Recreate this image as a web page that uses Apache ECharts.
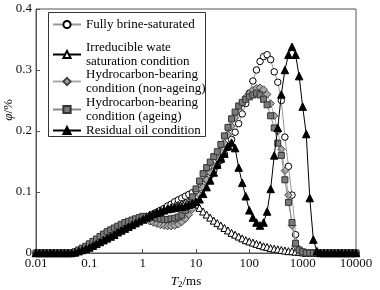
<!DOCTYPE html>
<html>
<head>
<meta charset="utf-8">
<script src="https://cdn.jsdelivr.net/npm/echarts@6/dist/echarts.min.js"></script>
<style>html,body{margin:0;padding:0;background:#fff;}#c{width:380px;height:290px;}</style>
</head>
<body>
<div id="c"></div>
<script>
// T2 relaxation times (ms), log-spaced grid
var T2 = [
0.01,0.01166,0.01359,0.01585,0.01848,0.02154,0.02512,0.02929,0.03415,0.03981,0.04642,0.05412,0.0631,0.07356,0.08577,
0.1,0.1166,0.1359,0.1585,0.1848,0.2154,0.2512,0.2929,0.3415,0.3981,0.4642,0.5412,0.631,0.7356,0.8577,
1,1.166,1.359,1.585,1.848,2.154,2.512,2.929,3.415,3.981,4.642,5.412,6.31,7.356,8.577,
10,11.66,13.59,15.85,18.48,21.54,25.12,29.29,34.15,39.81,46.42,54.12,63.1,73.56,85.77,
100,116.6,135.9,158.5,184.8,215.4,251.2,292.9,341.5,398.1,464.2,541.2,631,735.6,857.7,
1000,1166,1359,1585,1848,2154,2512,2929,3415,3981,4642,5412,6310,7356,8577,
10000];

var brineSaturated = [
0,0,0,0,0,0,0,0,0,0,0,
0.001,0.003,0.005,0.007,0.009,0.012,0.015,0.018,0.021,0.024,0.027,0.031,0.034,0.037,0.040,0.043,0.046,0.049,0.052,0.055,
0.058,0.061,0.064,0.067,0.070,0.073,0.077,0.080,0.084,0.087,0.090,0.093,0.096,0.099,0.102,0.107,0.113,0.120,0.127,0.135,
0.143,0.152,0.162,0.173,0.186,0.198,0.212,0.228,0.245,0.262,0.282,0.300,0.314,0.322,0.325,0.317,0.297,0.280,0.250,0.190,
0.142,0.095,0.030,0.005,0.001,
0,0,0,0,0,0,0,0,0,0,0,0,0,0,0];

var irreducibleWater = [
0,0,0,0,0,0,0,0,0,0,0,
0.002,0.004,0.006,0.009,0.012,0.015,0.018,0.021,0.024,0.027,0.030,0.034,0.037,0.040,0.043,0.046,0.049,0.052,0.055,0.058,
0.060,0.063,0.065,0.067,0.069,0.071,0.073,0.075,0.077,0.079,0.081,0.083,0.084,0.083,0.079,0.074,0.068,0.063,0.058,0.053,
0.049,0.045,0.041,0.037,0.033,0.030,0.027,0.024,0.021,0.019,0.017,0.015,0.013,0.011,0.010,0.008,0.007,0.006,0.005,0.004,
0.003,0.003,0.002,0.002,0.001,
0,0,0,0,0,0,0,0,0,0,0,0,0,0,0];

var hcNonAgeing = [
0,0,0,0,0,0,0,0,0,0,0,
0.002,0.004,0.007,0.010,0.013,0.017,0.021,0.025,0.029,0.033,0.036,0.039,0.042,0.045,0.048,0.050,0.052,0.054,0.055,0.055,
0.054,0.052,0.050,0.048,0.046,0.045,0.044,0.044,0.045,0.047,0.051,0.056,0.063,0.072,0.083,0.095,0.108,0.120,0.132,0.143,
0.155,0.167,0.180,0.194,0.208,0.222,0.235,0.246,0.255,0.262,0.267,0.270,0.271,0.268,0.260,0.245,0.225,0.200,0.170,0.135,
0.095,0.045,0.012,0.004,0.001,
0,0,0,0,0,0,0,0,0,0,0,0,0,0,0];

var hcAgeing = [
0,0,0,0,0,0,0,0,0,0,0,
0.002,0.005,0.008,0.011,0.015,0.019,0.023,0.027,0.031,0.035,0.038,0.041,0.044,0.047,0.050,0.052,0.054,0.056,0.058,0.060,
0.060,0.059,0.058,0.057,0.056,0.055,0.055,0.056,0.057,0.059,0.062,0.070,0.080,0.092,0.105,0.118,0.130,0.140,0.149,0.158,
0.166,0.178,0.192,0.206,0.220,0.231,0.241,0.247,0.252,0.256,0.259,0.262,0.259,0.252,0.243,0.225,0.205,0.180,0.160,0.120,
0.083,0.050,0.016,0.005,0.002,
0,0,0,0,0,0,0,0,0,0,0,0,0,0,0];

var residualOil = [
0,0,0,0,0,0,0,0,0,0,0,
0.001,0.003,0.005,0.007,0.009,0.012,0.015,0.018,0.021,0.024,0.027,0.030,0.034,0.037,0.040,0.043,0.046,0.049,0.052,0.055,
0.058,0.061,0.064,0.066,0.068,0.070,0.072,0.073,0.074,0.075,0.076,0.077,0.079,0.081,0.084,0.088,0.097,0.108,0.119,0.132,
0.145,0.155,0.163,0.175,0.181,0.172,0.140,0.115,0.093,0.070,0.058,0.050,0.045,0.050,0.068,0.105,0.160,0.205,0.260,0.300,
0.325,0.338,0.325,0.290,0.240,0.195,0.090,0.022,0.003,
0,0,0,0,0,0,0,0,0,0,0];

var seriesNames = [
  'Fully brine-saturated',
  'Irreducible wate\nsaturation condition',
  'Hydrocarbon-bearing\ncondition (non-ageing)',
  'Hydrocarbon-bearing\ncondition (ageing)',
  'Residual oil condition'
];
var xTickLabels = ['0.01','0.1','1','10','100','1000','10000'];
var yTickLabels = ['0','0.1','0.2','0.3','0.4'];

function pairs(v){ return T2.map(function(t,i){ return [t, v[i]]; }); }

var SERIF = 'Liberation Serif, Times New Roman, serif';
var chart = echarts.init(document.getElementById('c'), null, {renderer:'canvas'});

var styles = [
  {symbol:'circle', size:6.5, fill:'#ffffff', border:'#000', line:'#999'},
  {symbol:'triangle', size:7, fill:'#ffffff', border:'#000', line:'#000'},
  {symbol:'diamond', size:7.5, fill:'#a8a8a8', border:'#444', line:'#aaa'},
  {symbol:'rect', size:6, fill:'#7a7a7a', border:'#333', line:'#888'},
  {symbol:'triangle', size:7.5, fill:'#000', border:'#000', line:'#000'}
];
var dataSets = [brineSaturated, irreducibleWater, hcNonAgeing, hcAgeing, residualOil];
var legendCenters = [22, 45, 72, 100, 128];

var series = dataSets.map(function(d, k){
  var s = styles[k];
  return {
    name: seriesNames[k], type:'line', data: pairs(d),
    symbol: s.symbol, symbolSize: s.size, showSymbol:true, showAllSymbol:true,
    itemStyle:{color:s.fill, borderColor:s.border, borderWidth:1},
    lineStyle:{color:s.line, width:1},
    clip:false, animation:false, z: 2+k
  };
});

var legends = seriesNames.map(function(n, k){
  return {
    data:[n], left:52, top: legendCenters[k]-4.5, orient:'vertical',
    itemWidth:28, itemHeight:9, padding:0, selectedMode:false,
    textStyle:{fontFamily:SERIF, fontSize:13, lineHeight:14, color:'#000'}
  };
});

chart.setOption({
  animation:false,
  backgroundColor:'#fff',
  grid:{left:36, right:24, top:9, bottom:37, containLabel:false, outerBoundsMode:'none',
        show:true, borderColor:'#555', borderWidth:1, backgroundColor:'transparent'},
  legend: legends,
  graphic:[
    {type:'rect', shape:{x:48.5, y:12.5, width:157, height:124}, style:{fill:'none', stroke:'#333', lineWidth:1}, z:100},
    {type:'text', x:9, y:110, rotation:Math.PI/2, z:100,
     style:{text:'{i|φ}/%', align:'center', verticalAlign:'middle', fill:'#000',
       font:'13px ' + SERIF,
       rich:{i:{fontFamily:SERIF, fontSize:13, fontStyle:'italic', fill:'#000'}}}}
  ],
  xAxis:{
    type:'log', logBase:10, min:0.01, max:10000,
    name:'{i|T}{s|2}/ms', nameLocation:'middle', nameGap:17,
    nameTextStyle:{fontFamily:SERIF, fontSize:13, color:'#000', padding:[0,20,0,0], rich:{
      i:{fontFamily:SERIF, fontSize:13, fontStyle:'italic', color:'#000'},
      s:{fontFamily:SERIF, fontSize:9, color:'#000', padding:[7,0,0,0]}
    }},
    axisLine:{lineStyle:{color:'#555', width:1}},
    axisTick:{inside:true, length:4, lineStyle:{color:'#555'}},
    minorTick:{show:false},
    splitLine:{show:false},
    axisLabel:{fontFamily:SERIF, fontSize:13, color:'#111', margin:4,
      formatter:function(v){ var k=Math.round(Math.log(v)/Math.LN10)+2; return xTickLabels[k]; }}
  },
  yAxis:{
    type:'value', min:0, max:0.4, interval:0.1,
    axisLine:{show:true, lineStyle:{color:'#555', width:1}},
    axisTick:{show:true, inside:true, length:4, lineStyle:{color:'#555'}},
    splitLine:{show:false},
    axisLabel:{fontFamily:SERIF, fontSize:13, color:'#111', margin:4,
      formatter:function(v){ return yTickLabels[Math.round(v*10)]; }}
  },
  series: series
});
</script>
</body>
</html>
